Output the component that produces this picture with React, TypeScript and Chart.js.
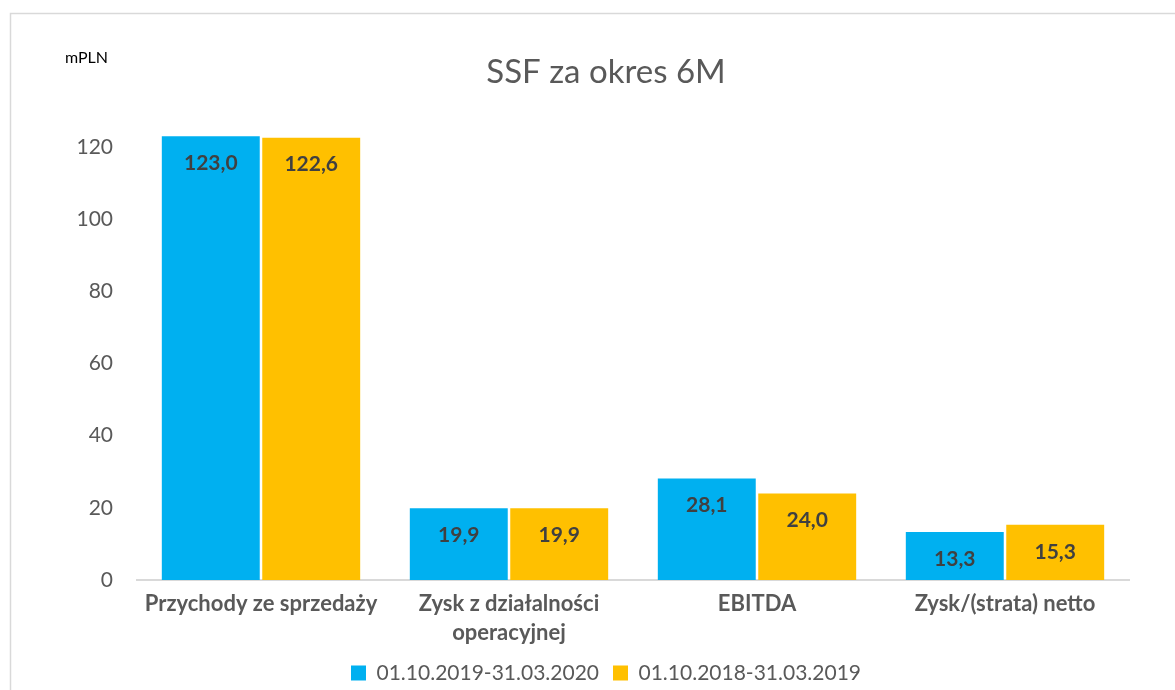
import React, { useEffect, useRef } from "react";
import { Chart, registerables } from "chart.js";

Chart.register(...registerables);

const categories: (string | string[])[] = [
  "Przychody ze sprzedaży",
  ["Zysk z działalności", "operacyjnej"],
  "EBITDA",
  "Zysk/(strata) netto",
];
const seriesNames = ["01.10.2019-31.03.2020", "01.10.2018-31.03.2019"];
const current = [123.0, 19.9, 28.1, 13.3];
const previous = [122.6, 19.9, 24.0, 15.3];
const yTicks = [0, 20, 40, 60, 80, 100, 120];
const titleText = "SSF za okres 6M";
const unitText = "mPLN";

const FONT = "Lato, 'Open Sans', sans-serif";

const framePlugin = {
  id: "frame",
  beforeDraw(chart: any) {
    const ctx = chart.ctx;
    ctx.save();
    ctx.fillStyle = "#ffffff";
    ctx.fillRect(0, 0, chart.width, chart.height);
    ctx.strokeStyle = "#d9d9d9";
    ctx.lineWidth = 1.5;
    ctx.beginPath();
    ctx.moveTo(10.5, chart.height);
    ctx.lineTo(10.5, 13.5);
    ctx.lineTo(chart.width, 13.5);
    ctx.stroke();
    ctx.fillStyle = "#000000";
    ctx.font = `16px ${FONT}`;
    ctx.textAlign = "left";
    ctx.textBaseline = "middle";
    ctx.fillText(unitText, 65, 58);
    ctx.restore();
  },
};

const labelPlugin = {
  id: "barLabels",
  afterDatasetsDraw(chart: any) {
    const ctx = chart.ctx;
    ctx.save();
    ctx.font = `bold 21px ${FONT}`;
    ctx.fillStyle = "#404040";
    ctx.textAlign = "center";
    ctx.textBaseline = "middle";
    chart.data.datasets.forEach((ds: any, i: number) => {
      const meta = chart.getDatasetMeta(i);
      meta.data.forEach((bar: any, j: number) => {
        const v = ds.data[j] as number;
        ctx.fillText(v.toFixed(1).replace(".", ","), bar.x, bar.y + 27);
      });
    });
    ctx.restore();
  },
};

export default function App() {
  const ref = useRef<HTMLCanvasElement>(null);
  useEffect(() => {
    if (!ref.current) return;
    const chart = new Chart(ref.current, {
      type: "bar",
      data: {
        labels: categories,
        datasets: [
          {
            label: seriesNames[0],
            data: current,
            backgroundColor: "#00B0F0",
            categoryPercentage: 0.81,
            barPercentage: 0.975,
          },
          {
            label: seriesNames[1],
            data: previous,
            backgroundColor: "#FFC000",
            categoryPercentage: 0.81,
            barPercentage: 0.975,
          },
        ],
      },
      options: {
        animation: false,
        responsive: false,
        maintainAspectRatio: false,
        layout: { padding: { left: 61, right: 24, top: 20, bottom: -3.5 } },
        plugins: {
          title: {
            display: true,
            text: titleText,
            color: "#595959",
            font: { family: FONT, size: 33, weight: "normal", lineHeight: 1.2 },
            padding: { top: 32.7, bottom: 36.7 },
          },
          legend: {
            position: "bottom",
            labels: {
              color: "#595959",
              font: { family: FONT, size: 21 },
              boxWidth: 15,
              boxHeight: 15,
              padding: 14,
            },
          },
          tooltip: { enabled: false },
        },
        scales: {
          x: {
            grid: { display: false, drawTicks: false },
            border: { display: true, color: "#d9d9d9", width: 2 },
            ticks: {
              color: "#595959",
              font: { family: FONT, size: 22, weight: "bold", lineHeight: 1.3 },
              padding: 10,
              maxRotation: 0,
              autoSkip: false,
            },
            afterFit(scale: any) {
              scale.height = 68.5;
            },
          },
          y: {
            min: 0,
            max: 125,
            grid: { display: false, drawTicks: false },
            border: { display: false },
            ticks: {
              color: "#595959",
              font: { family: FONT, size: 21 },
              padding: 24,
            },
            afterBuildTicks(scale: any) {
              scale.ticks = yTicks.map((v) => ({ value: v }));
            },
            afterFit(scale: any) {
              scale.width = 76;
            },
          },
          yRight: {
            type: "linear",
            position: "right",
            display: true,
            grid: { display: false, drawTicks: false },
            border: { display: false },
            ticks: { display: false },
            afterFit(scale: any) {
              scale.width = 22;
            },
          },
        },
      },
      plugins: [framePlugin, labelPlugin],
    });
    return () => chart.destroy();
  }, []);
  return (
    <div style={{ position: "fixed", left: 0, top: 0, width: 1175, height: 690 }}>
      <canvas ref={ref} width={1175} height={690} style={{ width: 1175, height: 690 }} />
    </div>
  );
}
